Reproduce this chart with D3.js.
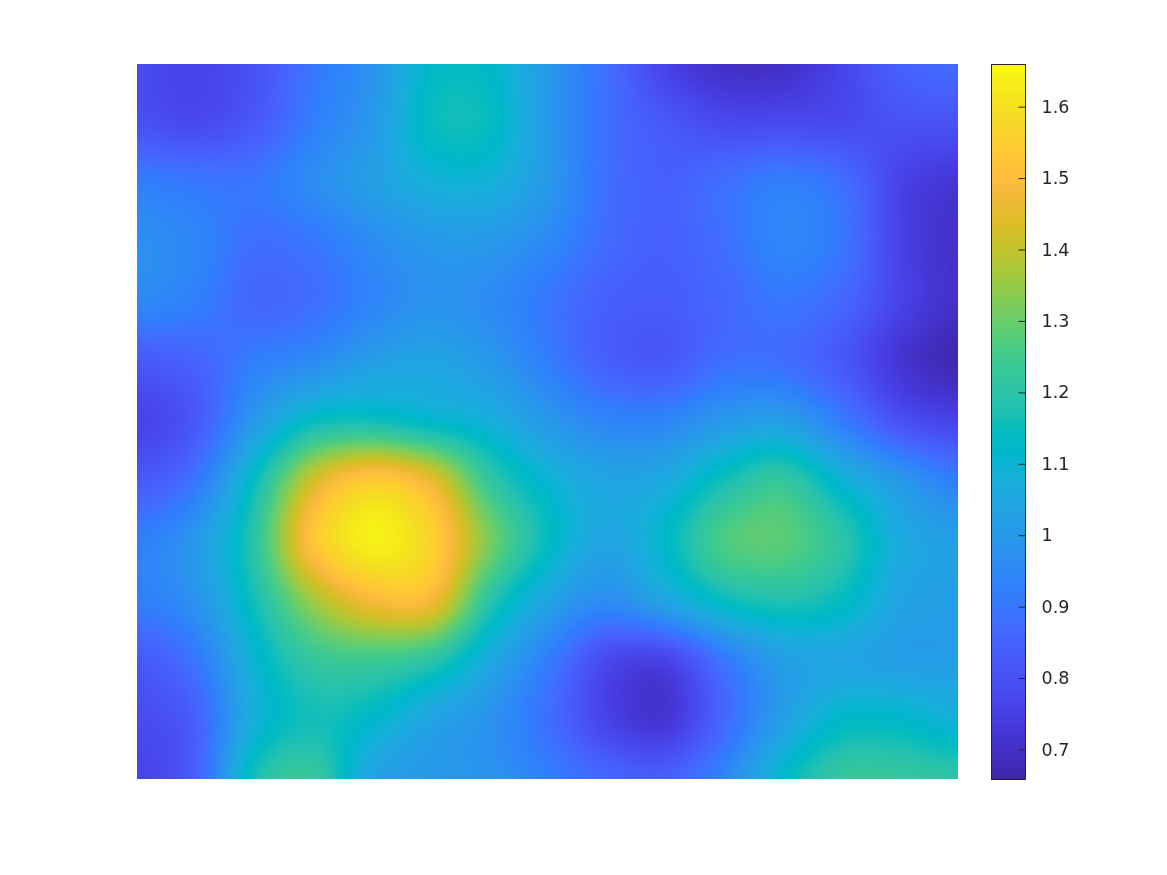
<!DOCTYPE html>
<html><head><meta charset="utf-8">
<script src="https://cdn.jsdelivr.net/npm/d3@7"></script>
<style>html,body{margin:0;padding:0;background:#fff;width:1167px;height:875px;overflow:hidden}
#c,#b{position:absolute}svg{position:absolute;left:0;top:0}</style></head>
<body><canvas id="c"></canvas><canvas id="b"></canvas><svg width="1167" height="875"></svg>
<script>
const tickValues=[0.7,0.8,0.9,1,1.1,1.2,1.3,1.4,1.5,1.6];
const valueRange=[0.658,1.659];
const row0=[0.78,0.76,0.80,0.90,0.98,1.12,1.12,1.00,0.88,0.76,0.70,0.70,0.76,0.84,0.87];
const row1=[0.80,0.78,0.82,0.92,1.00,1.14,1.14,1.00,0.88,0.82,0.78,0.78,0.78,0.80,0.80];
const row2=[0.92,0.90,0.90,0.96,1.02,1.08,1.08,1.00,0.88,0.84,0.88,0.92,0.88,0.76,0.72];
const row3=[0.97,0.94,0.88,0.90,0.96,1.00,1.00,0.95,0.87,0.84,0.88,0.94,0.90,0.76,0.70];
const row4=[0.95,0.92,0.86,0.88,0.94,0.98,0.96,0.90,0.84,0.83,0.86,0.90,0.86,0.76,0.70];
const row5=[0.82,0.85,0.92,0.96,1.02,1.04,1.00,0.92,0.84,0.82,0.88,0.88,0.82,0.72,0.67];
const row6=[0.76,0.82,1.00,1.14,1.16,1.12,1.08,1.00,0.94,0.94,1.00,1.02,0.92,0.80,0.76];
const row7=[0.82,0.90,1.14,1.42,1.54,1.46,1.22,1.10,1.04,1.06,1.16,1.22,1.10,1.00,0.92];
const row8=[0.92,1.00,1.20,1.52,1.64,1.56,1.32,1.14,1.04,1.12,1.26,1.28,1.20,1.06,1.02];
const row9=[0.92,0.98,1.16,1.36,1.48,1.48,1.20,1.04,0.96,1.04,1.14,1.18,1.14,1.04,1.02];
const row10=[0.82,0.90,1.10,1.22,1.24,1.20,1.06,0.92,0.78,0.76,0.90,1.02,1.04,1.02,1.02];
const row11=[0.78,0.84,1.08,1.16,1.12,1.04,0.98,0.88,0.76,0.72,0.86,1.02,1.12,1.12,1.08];
const row12=[0.76,0.84,1.16,1.22,1.04,1.00,0.98,0.92,0.86,0.84,0.94,1.12,1.22,1.22,1.20];
const grid=[row0,row1,row2,row3,row4,row5,row6,row7,row8,row9,row10,row11,row12];
const parula=[[.2422,.1504,.6603],[.2504,.165,.7076],[.2578,.1818,.7511],[.2647,.1978,.7952],[.2706,.2147,.8364],[.2751,.2342,.871],[.2783,.2559,.8991],[.2803,.2782,.9221],[.2813,.3006,.9414],[.281,.3228,.9579],[.2795,.3447,.9717],[.276,.3667,.9829],[.2699,.3892,.9906],[.2602,.4123,.9952],[.244,.4358,.9988],[.2206,.4603,.9973],[.1963,.4847,.9892],[.1834,.5074,.9798],[.1786,.5289,.9682],[.1764,.5499,.952],[.1687,.5703,.9359],[.154,.5902,.9218],[.146,.6091,.9079],[.138,.6276,.8973],[.1248,.6459,.8883],[.1113,.6635,.8763],[.0952,.6798,.8598],[.0689,.6948,.8394],[.0297,.7082,.8163],[.0036,.7203,.7917],[.0067,.7312,.766],[.0433,.7411,.7394],[.0964,.75,.712],[.1408,.7584,.6842],[.1717,.767,.6554],[.1938,.7758,.6251],[.2161,.7843,.5923],[.247,.7918,.5567],[.2906,.7973,.5188],[.3406,.8008,.4789],[.3909,.8029,.4354],[.4456,.8024,.3909],[.5044,.7993,.348],[.5616,.7942,.3045],[.6174,.7876,.2612],[.672,.7793,.2227],[.7242,.7698,.191],[.7738,.7598,.1646],[.8203,.7498,.1535],[.8634,.7406,.1596],[.9035,.733,.1774],[.9393,.7288,.21],[.9728,.7298,.2394],[.9956,.7434,.2371],[.997,.7659,.2199],[.9952,.7861,.1999],[.9892,.8063,.1842],[.9786,.8270,.1636],[.9676,.8485,.1522],[.961,.87,.141],[.9597,.8947,.1132],[.9628,.9197,.1016],[.9691,.9464,.0926],[.9769,.9839,.0805]];
const plot={l:137,t:64,r:958,b:779}, bar={l:991,t:64,r:1025,b:779};
const nr=grid.length,nc=row0.length;
const colorPos=d3.scaleLinear().domain(valueRange).range([0,parula.length-1]).clamp(true);
function col(v){const p=colorPos(v),i=Math.min(Math.floor(p),parula.length-2),f=p-i;
 return parula[i].map((c,k)=>Math.round(255*(c+(parula[i+1][k]-c)*f)));}
const xIdx=d3.scaleLinear().domain([plot.l,plot.r]).range([0,nc-1]);
const yIdx=d3.scaleLinear().domain([plot.t,plot.b]).range([0,nr-1]);
const cr=(a,b,c,d,t)=>0.5*(2*b+(c-a)*t+(2*a-5*b+4*c-d)*t*t+(3*b-a-3*c+d)*t*t*t);
const at=(r,c)=>grid[Math.max(0,Math.min(nr-1,r))][Math.max(0,Math.min(nc-1,c))];
function sample(x,y){const ci=Math.min(Math.floor(x),nc-2),ri=Math.min(Math.floor(y),nr-2),fx=x-ci,fy=y-ri;
 const v=[-1,0,1,2].map(d=>cr(at(ri+d,ci-1),at(ri+d,ci),at(ri+d,ci+1),at(ri+d,ci+2),fx));
 return cr(v[0],v[1],v[2],v[3],fy);}
const cv=d3.select('#c').attr('width',plot.r-plot.l).attr('height',plot.b-plot.t).style('left',plot.l+'px').style('top',plot.t+'px').node();
const ctx=cv.getContext('2d'),img=ctx.createImageData(cv.width,cv.height);
for(let j=0;j<cv.height;j++)for(let i=0;i<cv.width;i++){const c=col(sample(xIdx(plot.l+i+.5),yIdx(plot.t+j+.5))),o=4*(j*cv.width+i);
 img.data[o]=c[0];img.data[o+1]=c[1];img.data[o+2]=c[2];img.data[o+3]=255;}
ctx.putImageData(img,0,0);
const yBar=d3.scaleLinear().domain(valueRange).range([bar.b,bar.t]);
const bv=d3.select('#b').attr('width',bar.r-bar.l).attr('height',bar.b-bar.t).style('left',bar.l+'px').style('top',bar.t+'px').node();
const bx=bv.getContext('2d');
for(let j=0;j<bv.height;j++){const c=col(yBar.invert(bar.t+j+.5));bx.fillStyle=`rgb(${c})`;bx.fillRect(0,j,bv.width,1);}
const svg=d3.select('svg');
svg.append('rect').attr('x',bar.l+.5).attr('y',bar.t+.5).attr('width',bar.r-bar.l).attr('height',bar.b-bar.t).attr('fill','none').attr('stroke','#262626').attr('stroke-width',1);
const ax=d3.axisRight(yBar).tickValues(tickValues).tickFormat(d3.format('~g')).tickSize(-7).tickPadding(16);
const g=svg.append('g').attr('transform',`translate(${bar.r+.5},0.5)`).call(ax);
g.select('.domain').remove();
g.selectAll('line').attr('stroke','#262626');
g.selectAll('text').attr('fill','#262626').attr('font-family','DejaVu Sans').attr('font-size',17.5);
</script></body></html>
